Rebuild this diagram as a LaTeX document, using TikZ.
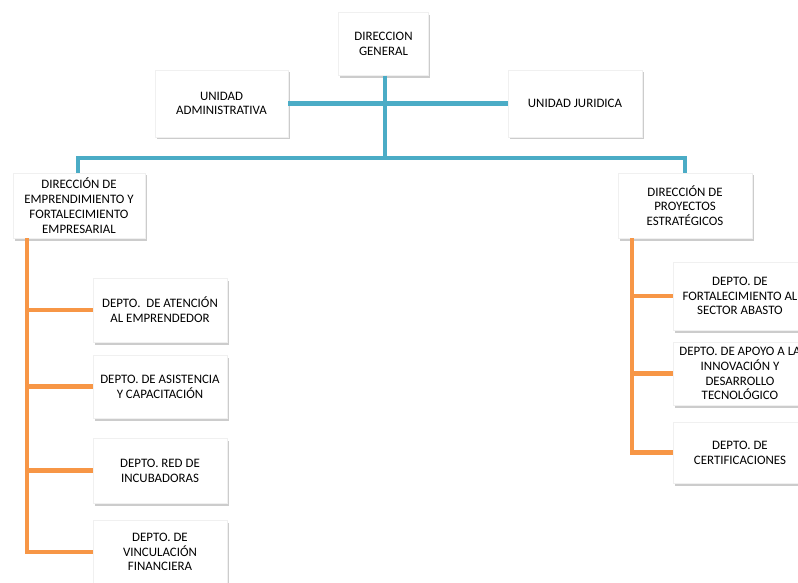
\documentclass[tikz,border=0pt]{standalone}
\usepackage{fontspec}
\setmainfont{Carlito}
\usetikzlibrary{shadows}
\definecolor{bluel}{HTML}{4BACC6}
\definecolor{orangel}{HTML}{F79646}
\begin{document}
\begin{tikzpicture}[x=1pt,y=-1pt,
  box/.style={fill=white, draw=gray!12, line width=0.5pt, align=center,
    font=\fontsize{12.9}{14.8}\selectfont, inner sep=0pt,
    drop shadow={shadow xshift=1.5pt, shadow yshift=-2.5pt, opacity=0.4, fill=gray}},
  bline/.style={draw=bluel, line width=4.5pt},
  oline/.style={draw=orangel, line width=4.5pt, line join=miter}]
\useasboundingbox (0,0) rectangle (798,583);
% nodes
\node[box, minimum width=90pt, minimum height=63pt] (dg) at (383.5,44) {DIRECCION\\GENERAL};
\node[box, minimum width=133pt, minimum height=67pt] (ua) at (221.5,103.5) {UNIDAD\\ADMINISTRATIVA};
\node[box, minimum width=134pt, minimum height=67pt] (uj) at (575,103.5) {UNIDAD JURIDICA};
\node[box, minimum width=132pt, minimum height=65pt] (de) at (79,205.5) {DIRECCIÓN DE\\EMPRENDIMIENTO Y\\FORTALECIMIENTO\\EMPRESARIAL};
\node[box, minimum width=134pt, minimum height=65pt] (dp) at (685,205.5) {DIRECCIÓN DE\\PROYECTOS\\ESTRATÉGICOS};
\node[box, minimum width=134pt, minimum height=64pt] (d1) at (160,310) {DEPTO.\ \ DE ATENCIÓN\\AL EMPRENDEDOR};
\node[box, minimum width=134pt, minimum height=63pt] (d2) at (160,386.5) {DEPTO. DE ASISTENCIA\\Y CAPACITACIÓN};
\node[box, minimum width=134pt, minimum height=65pt] (d3) at (160,470.5) {DEPTO. RED DE\\INCUBADORAS};
\node[box, minimum width=134pt, minimum height=64pt] (d4) at (160,552) {DEPTO. DE\\VINCULACIÓN\\FINANCIERA};
\node[box, minimum width=134pt, minimum height=68pt] (r1) at (740,296) {DEPTO. DE\\FORTALECIMIENTO AL\\SECTOR ABASTO};
\node[box, minimum width=134pt, minimum height=63pt] (r2) at (740,373.5) {DEPTO. DE APOYO A LA\\INNOVACIÓN Y\\DESARROLLO\\TECNOLÓGICO};
\node[box, minimum width=134pt, minimum height=61pt] (r3) at (740,452.5) {DEPTO. DE\\CERTIFICACIONES};
% blue connectors
\coordinate (busL) at (78,158);
\coordinate (busR) at (685,158);
\coordinate (mid) at (385,158);
\draw[bline] (ua.east) -- (uj.west);
\draw[bline] (dg.south -| mid) -- (mid);
\draw[bline] (de.north -| busL) -- (busL) -- (busR) -- (dp.north -| busR);
% orange connectors
\coordinate (oL) at (27,0);
\coordinate (oR) at (632,0);
\draw[oline] (de.south -| oL) -- (d4.west -| oL) -- (d4.west);
\draw[oline] (d1.west -| oL) -- (d1.west);
\draw[oline] (d2.west -| oL) -- (d2.west);
\draw[oline] (d3.west -| oL) -- (d3.west);
\draw[oline] (dp.south -| oR) -- (r3.west -| oR) -- (r3.west);
\draw[oline] (r1.west -| oR) -- (r1.west);
\draw[oline] (r2.west -| oR) -- (r2.west);
\end{tikzpicture}
\end{document}
